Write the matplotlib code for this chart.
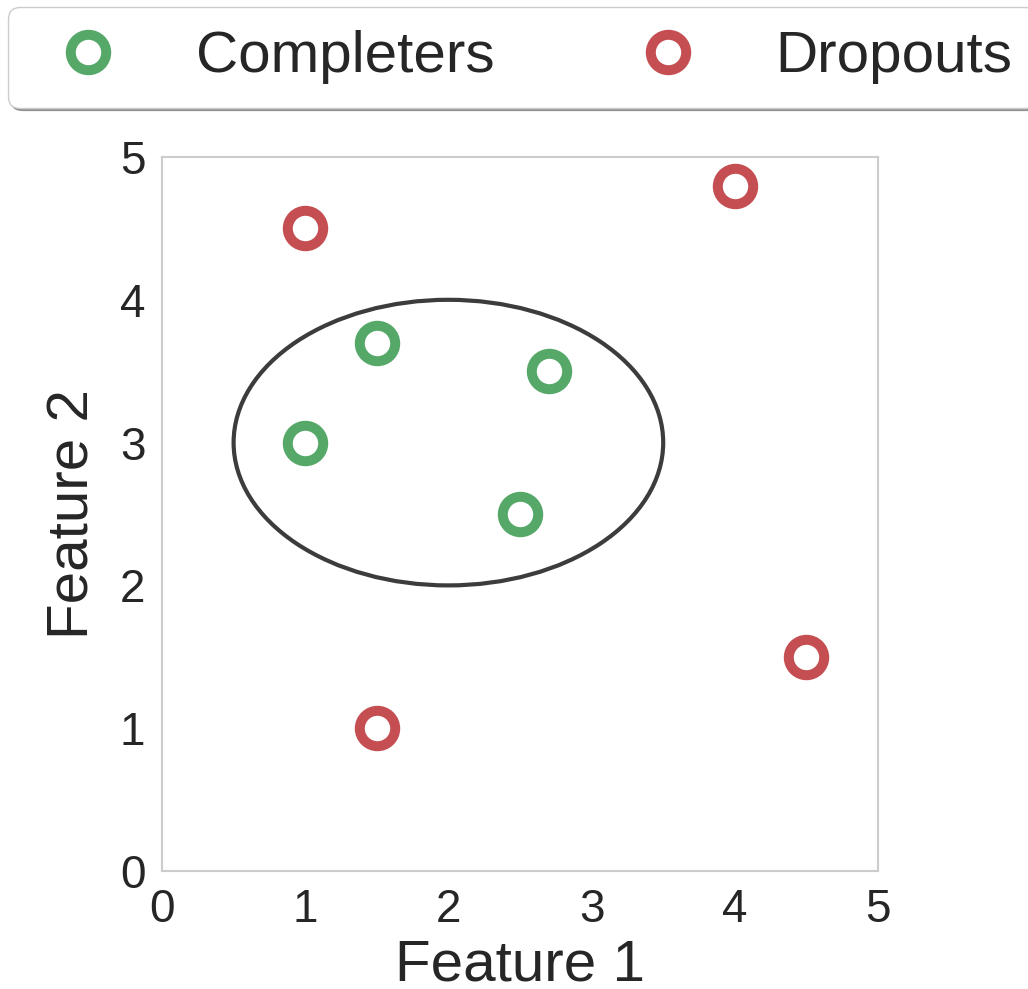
import matplotlib
matplotlib.use("Agg")
import matplotlib.pyplot as plt
from matplotlib.patches import Ellipse

plt.rcParams['font.family'] = ['Liberation Sans', 'DejaVu Sans']

completers_x = [1.5, 2.7, 1.0, 2.5]
completers_y = [3.7, 3.5, 3.0, 2.5]
dropouts_x = [1.0, 4.0, 1.5, 4.5]
dropouts_y = [4.5, 4.8, 1.0, 1.5]
ellipse_center = (2.0, 3.0)
ellipse_width = 3.0
ellipse_height = 2.0
ticks = [0, 1, 2, 3, 4, 5]

green = '#55A868'
red = '#C44E52'
text_color = '#262626'

fig = plt.figure(figsize=(10.28, 9.89), dpi=100)
ax = fig.add_axes([162/1028, 1 - 871/989, 716/1028, 714/989])

ax.plot(completers_x, completers_y, 'o', ms=25.5, mew=7.2, mfc='white', mec=green,
        linestyle='none', label='Completers', zorder=3)
ax.plot(dropouts_x, dropouts_y, 'o', ms=25.5, mew=7.2, mfc='white', mec=red,
        linestyle='none', label='Dropouts', zorder=3)

ax.add_patch(Ellipse(ellipse_center, ellipse_width, ellipse_height, fill=False,
                     edgecolor='#3c3c3c', lw=3))

ax.set_xlim(0, 5)
ax.set_ylim(0, 5)
ax.set_xticks(ticks)
ax.set_yticks(ticks)
ax.tick_params(length=0, labelsize=33, colors=text_color, pad=12)
for s in ax.spines.values():
    s.set_color('#cccccc')
    s.set_linewidth(1.5)
ax.set_xlabel('Feature 1', fontsize=42, color=text_color, labelpad=5)
ax.set_ylabel('Feature 2', fontsize=42, color=text_color, labelpad=14)

leg = fig.legend(loc='upper left', bbox_to_anchor=(8/1028, 1 - 7/989), ncol=2,
                 fontsize=42, frameon=True, fancybox=True, shadow=True,
                 handletextpad=0.86, columnspacing=2.0, borderpad=0.4,
                 handlelength=1.96, borderaxespad=0)
for t in leg.get_texts():
    t.set_color(text_color)
leg.get_frame().set_edgecolor('#cccccc')

fig.savefig('out.png', dpi=100)
